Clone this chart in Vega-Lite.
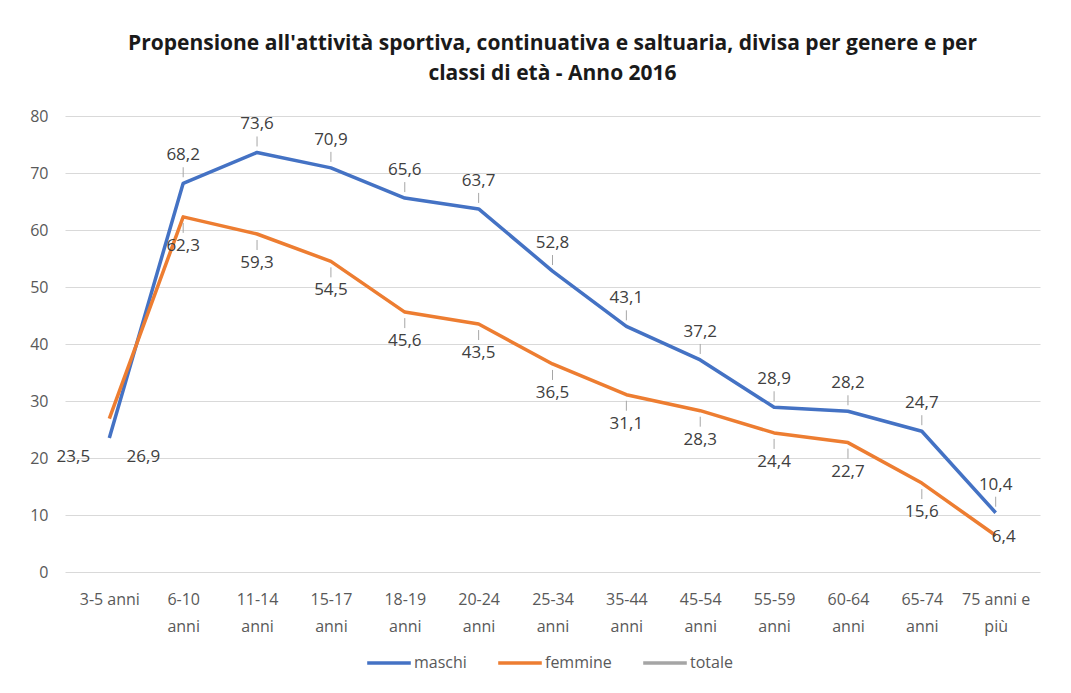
{
  "$schema": "https://vega.github.io/schema/vega-lite/v6.json",
  "autosize": {"type": "none"},
  "width": 975,
  "height": 456,
  "padding": {"left": 65, "top": 116, "right": 31, "bottom": 121},
  "background": "white",
  "config": {
    "font": "Open Sans",
    "view": {"stroke": null},
    "locale": {"number": {"decimal": ",", "thousands": ".", "grouping": [3], "currency": ["€", ""]}}
  },
  "title": {
    "text": ["Propensione all'attività sportiva,  continuativa e saltuaria, divisa per genere e per", "classi di età - Anno 2016"],
    "font": "Open Sans",
    "fontSize": 21,
    "fontWeight": "bold",
    "color": "#1a1a1a",
    "lineHeight": 30,
    "anchor": "middle",
    "offset": 24
  },
  "data": {
    "values": [
      {"eta": "3-5 anni", "serie": "maschi", "valore": 23.5},
      {"eta": "6-10|anni", "serie": "maschi", "valore": 68.2},
      {"eta": "11-14|anni", "serie": "maschi", "valore": 73.6},
      {"eta": "15-17|anni", "serie": "maschi", "valore": 70.9},
      {"eta": "18-19|anni", "serie": "maschi", "valore": 65.6},
      {"eta": "20-24|anni", "serie": "maschi", "valore": 63.7},
      {"eta": "25-34|anni", "serie": "maschi", "valore": 52.8},
      {"eta": "35-44|anni", "serie": "maschi", "valore": 43.1},
      {"eta": "45-54|anni", "serie": "maschi", "valore": 37.2},
      {"eta": "55-59|anni", "serie": "maschi", "valore": 28.9},
      {"eta": "60-64|anni", "serie": "maschi", "valore": 28.2},
      {"eta": "65-74|anni", "serie": "maschi", "valore": 24.7},
      {"eta": "75 anni e|più", "serie": "maschi", "valore": 10.4},
      {"eta": "3-5 anni", "serie": "femmine", "valore": 26.9},
      {"eta": "6-10|anni", "serie": "femmine", "valore": 62.3},
      {"eta": "11-14|anni", "serie": "femmine", "valore": 59.3},
      {"eta": "15-17|anni", "serie": "femmine", "valore": 54.5},
      {"eta": "18-19|anni", "serie": "femmine", "valore": 45.6},
      {"eta": "20-24|anni", "serie": "femmine", "valore": 43.5},
      {"eta": "25-34|anni", "serie": "femmine", "valore": 36.5},
      {"eta": "35-44|anni", "serie": "femmine", "valore": 31.1},
      {"eta": "45-54|anni", "serie": "femmine", "valore": 28.3},
      {"eta": "55-59|anni", "serie": "femmine", "valore": 24.4},
      {"eta": "60-64|anni", "serie": "femmine", "valore": 22.7},
      {"eta": "65-74|anni", "serie": "femmine", "valore": 15.6},
      {"eta": "75 anni e|più", "serie": "femmine", "valore": 6.4}
    ]
  },
  "encoding": {
    "x": {
      "field": "eta", "type": "nominal", "sort": null, "title": null,
      "scale": {"type": "point", "padding": 0.6},
      "axis": {
        "labelAngle": 0, "domain": false, "ticks": false, "grid": false,
        "labelPadding": 19, "labelColor": "#595959", "labelFontSize": 16,
        "labelLineHeight": 27, "labelExpr": "split(datum.label, '|')"
      }
    },
    "y": {
      "field": "valore", "type": "quantitative", "title": null,
      "scale": {"domain": [0, 80]},
      "axis": {
        "values": [0, 10, 20, 30, 40, 50, 60, 70, 80],
        "domain": false, "ticks": false, "grid": true,
        "gridColor": "#d9d9d9", "gridWidth": 1.2,
        "labelPadding": 17, "labelColor": "#595959", "labelFontSize": 16
      }
    }
  },
  "layer": [
    {
      "mark": {"type": "line", "strokeWidth": 3.5, "strokeJoin": "round"},
      "encoding": {
        "color": {
          "field": "serie", "type": "nominal", "title": null,
          "scale": {"domain": ["maschi", "femmine", "totale"], "range": ["#4472C4", "#ED7D31", "#A5A5A5"]},
          "legend": {
            "orient": "none", "legendX": 300, "legendY": 523, "direction": "horizontal",
            "symbolType": "stroke", "symbolStrokeWidth": 3.5, "symbolSize": 1900,
            "labelFontSize": 16, "labelColor": "#595959", "labelOffset": 1,
            "columnPadding": 24
          }
        }
      }
    },
    {
      "transform": [{"filter": "datum.serie == 'maschi' && datum.eta != '3-5 anni'"}],
      "mark": {"type": "rule", "color": "#a6a6a6", "strokeWidth": 1, "yOffset": -6, "y2Offset": -16},
      "encoding": {"y2": {"field": "valore"}}
    },
    {
      "transform": [{"filter": "datum.serie == 'femmine' && datum.eta != '3-5 anni' && datum.eta != '75 anni e|più'"}],
      "mark": {"type": "rule", "color": "#a6a6a6", "strokeWidth": 1, "yOffset": 6, "y2Offset": 16},
      "encoding": {"y2": {"field": "valore"}}
    },
    {
      "transform": [{"filter": "datum.serie == 'maschi' && datum.eta != '3-5 anni'"}],
      "mark": {"type": "text", "dy": -28, "fontSize": 17, "color": "#404040"},
      "encoding": {"text": {"field": "valore", "type": "quantitative", "format": ".1f"}}
    },
    {
      "transform": [{"filter": "datum.serie == 'femmine' && datum.eta != '3-5 anni' && datum.eta != '75 anni e|più'"}],
      "mark": {"type": "text", "dy": 29, "fontSize": 17, "color": "#404040"},
      "encoding": {"text": {"field": "valore", "type": "quantitative", "format": ".1f"}}
    },
    {
      "transform": [{"filter": "datum.serie == 'maschi' && datum.eta == '3-5 anni'"}],
      "mark": {"type": "text", "dx": -36, "dy": 19, "fontSize": 17, "color": "#404040"},
      "encoding": {"text": {"field": "valore", "type": "quantitative", "format": ".1f"}}
    },
    {
      "transform": [{"filter": "datum.serie == 'femmine' && datum.eta == '3-5 anni'"}],
      "mark": {"type": "text", "dx": 34, "dy": 38, "fontSize": 17, "color": "#404040"},
      "encoding": {"text": {"field": "valore", "type": "quantitative", "format": ".1f"}}
    },
    {
      "transform": [{"filter": "datum.serie == 'femmine' && datum.eta == '75 anni e|più'"}],
      "mark": {"type": "text", "dx": 8, "dy": 1, "fontSize": 17, "color": "#404040"},
      "encoding": {"text": {"field": "valore", "type": "quantitative", "format": ".1f"}}
    }
  ]
}
